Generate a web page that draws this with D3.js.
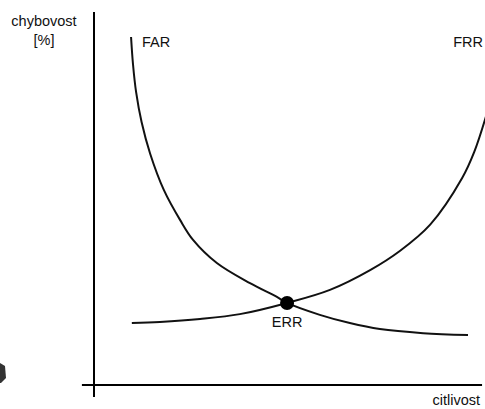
<!DOCTYPE html>
<html lang="cs">
<head>
<meta charset="UTF-8">
<title>FAR / FRR</title>
<style>
  body { margin: 0; background: #fff; }
  text { font-family: "Liberation Sans", Arial, sans-serif; font-size: 14.5px; fill: #111; }
</style>
</head>
<body>
<svg width="485" height="409"></svg>
<script src="https://cdnjs.cloudflare.com/ajax/libs/d3/7.8.5/d3.min.js"></script>
<script>
// curve values (sensitivity vs. error rate, 0-100)
var farX = [9.5, 10.0, 10.8, 12.2, 14.4, 17.9, 22.1, 25.4, 31.5, 40.0, 46.9, 49.5, 57.9, 65.6, 73.3, 84.4, 95.9];
var farY = [93.3, 86.0, 78.5, 70.5, 62.0, 52.3, 44.2, 38.9, 32.7, 27.3, 23.6, 22.0, 18.8, 16.6, 15.0, 13.9, 13.4];
var frrX = [9.7, 16.9, 27.2, 37.4, 49.5, 60.5, 70.8, 78.5, 86.2, 94.4, 97.5, 100.5];
var frrY = [16.6, 16.9, 17.7, 19.0, 22.0, 25.5, 30.8, 36.0, 43.0, 55.5, 62.5, 72.0];
var errPoint = [49.5, 22.0];
var labels = ["FAR", "FRR", "ERR"];
var yTitle = ["chybovost", "[%]"];
var xTitle = "citlivost";

var svg = d3.select("svg");

var x = d3.scaleLinear().domain([0, 100]).range([94, 484]);
var y = d3.scaleLinear().domain([0, 100]).range([385, 12]);

function zip(xs, ys) { return xs.map(function(v, i) { return [v, ys[i]]; }); }

var line = d3.line()
    .x(function(d) { return x(d[0]); })
    .y(function(d) { return y(d[1]); })
    .curve(d3.curveCatmullRom.alpha(0.5));

// axes (no ticks), crossing slightly past the origin
svg.append("line")
    .attr("x1", x(0)).attr("x2", x(0))
    .attr("y1", y(100)).attr("y2", y(-3.2))
    .attr("stroke", "#000").attr("stroke-width", 2);
svg.append("line")
    .attr("x1", x(-3.1)).attr("x2", x(99.5))
    .attr("y1", y(0)).attr("y2", y(0))
    .attr("stroke", "#000").attr("stroke-width", 2);

svg.append("path")
    .datum(zip(farX, farY))
    .attr("d", line)
    .attr("fill", "none").attr("stroke", "#111").attr("stroke-width", 2);

svg.append("path")
    .datum(zip(frrX, frrY))
    .attr("d", line)
    .attr("fill", "none").attr("stroke", "#111").attr("stroke-width", 2);

svg.append("circle")
    .attr("cx", x(errPoint[0])).attr("cy", y(errPoint[1]))
    .attr("r", 7).attr("fill", "#000");

svg.append("text").attr("x", x(farX[0]) + 11).attr("y", 47).text(labels[0]);
svg.append("text").attr("x", 483).attr("y", 47).attr("text-anchor", "end").text(labels[1]);
svg.append("text").attr("x", x(errPoint[0])).attr("y", y(errPoint[1]) + 24)
    .attr("text-anchor", "middle").text(labels[2]);

svg.append("text").attr("x", 44).attr("y", 26).attr("text-anchor", "middle").text(yTitle[0]);
svg.append("text").attr("x", 44).attr("y", 45).attr("text-anchor", "middle").text(yTitle[1]);
svg.append("text").attr("x", 480).attr("y", 405).attr("text-anchor", "end").text(xTitle);

// dark fragment cut off at the left edge
svg.append("path")
    .attr("d", "M0,363L5,366L6,378L1,383L0,383Z")
    .attr("fill", "#333");
</script>
</body>
</html>
